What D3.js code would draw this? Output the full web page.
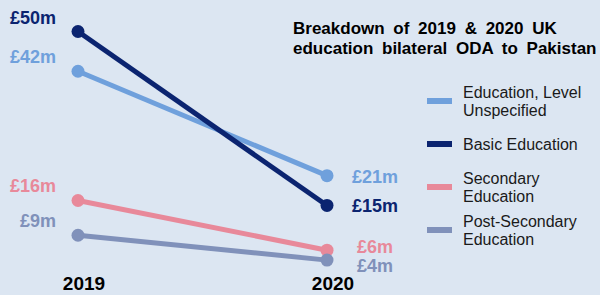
<!DOCTYPE html>
<html>
<head>
<meta charset="utf-8">
<script src="https://cdn.jsdelivr.net/npm/d3@7"></script>
<style>
  html, body { margin: 0; padding: 0; background: #dce6f2; }
  svg { display: block; font-family: "Liberation Sans", Arial, sans-serif; }
</style>
</head>
<body>
<div id="chart"></div>
<script>
// years on the x axis
var years = ['2019', '2020'];

// series names (legend order) and their values, in £m
var seriesNames = ['Education, Level Unspecified', 'Basic Education', 'Secondary Education', 'Post-Secondary Education'];
var values2019 = [42, 50, 16, 9];
var values2020 = [21, 15, 6, 4];

// legend text, split over lines
var legendLines = [['Education, Level', 'Unspecified'], ['Basic Education'], ['Secondary', 'Education'], ['Post-Secondary', 'Education']];

var colors = ['#6fa0dc', '#0b2470', '#e8899a', '#8091ba'];

var width = 600;
var height = 295;

var svg = d3.select('#chart')
  .append('svg')
  .attr('width', width)
  .attr('height', height)
  .style('background-color', '#dce6f2');

var x = d3.scalePoint()
  .domain(years)
  .range([78, 327]);

var y = d3.scaleLinear()
  .domain([0, 50])
  .range([280, 31.5]);

var series = seriesNames.map(function (name, i) {
  return {
    name: name,
    color: colors[i],
    points: [
      { year: years[0], value: values2019[i] },
      { year: years[1], value: values2020[i] }
    ]
  };
});

var line = d3.line()
  .x(function (d) { return x(d.year); })
  .y(function (d) { return y(d.value); });

var groups = svg.selectAll('g.series')
  .data(series)
  .enter()
  .append('g')
  .classed('series', true);

groups.append('path')
  .attr('d', function (d) { return line(d.points); })
  .attr('fill', 'none')
  .attr('stroke', function (d) { return d.color; })
  .attr('stroke-width', 5);

groups.selectAll('circle')
  .data(function (d) { return d.points.map(function (p) { return { year: p.year, value: p.value, color: d.color }; }); })
  .enter()
  .append('circle')
  .attr('cx', function (d) { return x(d.year); })
  .attr('cy', function (d) { return y(d.value); })
  .attr('r', 6.5)
  .attr('fill', function (d) { return d.color; });

// 2020 labels get pushed apart so they don't sit on top of each other
function spreadLabels (ys, gap) {
  var order = d3.range(ys.length).sort(function (a, b) { return ys[a] - ys[b]; });
  var out = ys.slice();
  for (var k = 0; k < 20; k++) {
    for (var j = 1; j < order.length; j++) {
      var a = order[j - 1], b = order[j];
      var diff = out[b] - out[a];
      if (diff < gap) {
        var push = (gap - diff) / 2;
        out[a] -= push;
        out[b] += push;
      }
    }
  }
  return out;
}
var labelY2020 = spreadLabels(values2020.map(function (v) { return y(v); }), 19);

// value labels: 2019 sits up and left of the dot, 2020 sits to the right
groups.append('text')
  .attr('x', x(years[0]) - 22)
  .attr('y', function (d) { return y(d.points[0].value) - 8; })
  .attr('text-anchor', 'end')
  .attr('font-size', 18)
  .attr('font-weight', 'bold')
  .attr('fill', function (d) { return d.color; })
  .text(function (d) { return '£' + d.points[0].value + 'm'; });

groups.append('text')
  .attr('x', x(years[1]) + 48)
  .attr('y', function (d, i) { return labelY2020[i] + 7; })
  .attr('text-anchor', 'middle')
  .attr('font-size', 18)
  .attr('font-weight', 'bold')
  .attr('fill', function (d) { return d.color; })
  .text(function (d) { return '£' + d.points[1].value + 'm'; });

// year labels along the bottom
svg.selectAll('text.year')
  .data(years)
  .enter()
  .append('text')
  .classed('year', true)
  .attr('x', function (d) { return x(d) + 6; })
  .attr('y', 290)
  .attr('text-anchor', 'middle')
  .attr('font-size', 19)
  .attr('font-weight', 'bold')
  .attr('fill', '#000')
  .text(function (d) { return d; });

// title
var title = svg.append('text')
  .attr('x', 293)
  .attr('y', 34)
  .attr('font-size', 17)
  .attr('font-weight', 'bold')
  .attr('fill', '#000')
  .style('word-spacing', '4px');
title.append('tspan').attr('x', 293).text('Breakdown of 2019 & 2020 UK');
title.append('tspan').attr('x', 293).attr('dy', 20).text('education bilateral ODA to Pakistan');

// legend
var legend = svg.selectAll('g.legend')
  .data(series)
  .enter()
  .append('g')
  .classed('legend', true)
  .attr('transform', function (d, i) { return 'translate(427,' + (101 + i * 43) + ')'; });

legend.append('rect')
  .attr('x', 0)
  .attr('y', -3)
  .attr('width', 25)
  .attr('height', 6)
  .attr('fill', function (d) { return d.color; });

legend.append('text')
  .attr('font-size', 16)
  .attr('fill', '#1a1a1a')
  .each(function (d, i) {
    var lines = legendLines[i];
    var start = -(lines.length - 1) * 9 + 6;
    lines.forEach(function (t, j) {
      d3.select(this).append('tspan')
        .attr('x', 36)
        .attr('y', start + j * 18)
        .text(t);
    }, this);
  });
</script>
</body>
</html>
